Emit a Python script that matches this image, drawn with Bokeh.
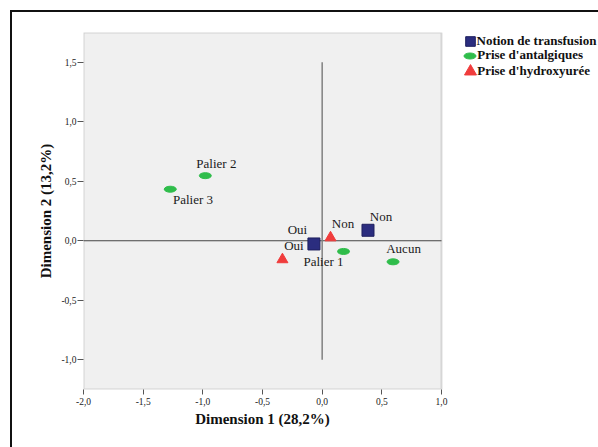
from bokeh.plotting import figure
from bokeh.models import (ColumnDataSource, FixedTicker, CustomJSTickFormatter,
                          Legend, LegendItem, Range1d, BoxAnnotation, Title)
from bokeh.core.properties import value
from bokeh.embed import file_html
from bokeh.resources import INLINE

# ---------------- data ----------------
transfusion_labels = ["Oui", "Non"]
transfusion_x = [-0.069, 0.384]
transfusion_y = [-0.027, 0.088]

antalg_labels = ["Palier 1", "Palier 2", "Palier 3", "Aucun"]
antalg_x = [0.179, -0.979, -1.273, 0.594]
antalg_y = [-0.090, 0.547, 0.433, -0.177]

hydroxy_labels = ["Oui", "Non"]
hydroxy_x = [-0.333, 0.070]
hydroxy_y = [-0.158, 0.026]

series_names = ["Notion de transfusion", "Prise d'antalgiques", "Prise d'hydroxyurée"]
x_ticks = [-2.0, -1.5, -1.0, -0.5, 0.0, 0.5, 1.0]
y_ticks = [-1.0, -0.5, 0.0, 0.5, 1.0, 1.5]
x_bounds = (-2.0, 1.0)
y_bounds = (-1.25, 1.75)
x_title = "Dimension 1 (28,2%)"
y_title = "Dimension 2 (13,2%)"

# ---------------- label offsets (style) ----------------
transfusion_dx = [-16.5, 13]
transfusion_dy = [-14.5, -13.8]
antalg_dx = [-20, 11, 22.7, 10.5]
antalg_dy = [10, -12, 10.6, -13]
hydroxy_dx = [11.5, 12.5]
hydroxy_dy = [-14, -14]

# ---------------- layout (pixels) ----------------
W, H = 598, 447
FL, FT = 83, 32            # left / top of the plotting box
BOXW, FH = 358, 357        # plotting box width / height
FB = FT + FH
SERIF = "Liberation Serif"
x_end = x_bounds[0] + (W - FL) * (x_bounds[1] - x_bounds[0]) / BOXW

p = figure(width=W, height=H, output_backend="svg", toolbar_location=None,
           x_range=Range1d(x_bounds[0], x_end), y_range=Range1d(*y_bounds),
           min_border_left=FL, min_border_top=FT,
           min_border_right=0, min_border_bottom=H - FB)
p.styles = {"box-shadow": "inset 10px 10px 0 0 #ffffff, inset 12px 12px 0 0 #111111",
            "background-color": "#ffffff"}
p.background_fill_alpha = 0
p.border_fill_alpha = 0
p.outline_line_color = None
p.grid.visible = False

# grey plotting area with its frame
p.add_layout(BoxAnnotation(left=x_bounds[0], right=x_bounds[1],
                           bottom=y_bounds[0], top=y_bounds[1],
                           fill_color="#f0f0f0", fill_alpha=1,
                           line_color="#8c8c8c", line_width=2, level="underlay"))

fmt = CustomJSTickFormatter(code="return tick.toFixed(1).replace('.', ',');")
for ax, ticks in ((p.xaxis[0], x_ticks), (p.yaxis[0], y_ticks)):
    ax.ticker = FixedTicker(ticks=ticks)
    ax.formatter = fmt
    ax.minor_tick_line_color = None
    ax.axis_line_color = None
    ax.major_tick_line_color = "#555555"
    ax.major_tick_in = 0
    ax.major_label_text_font = SERIF
    ax.major_label_text_font_size = "9.5px"
    ax.major_label_text_color = "#222222"
    ax.axis_label_text_font = SERIF
    ax.axis_label_text_font_style = "bold"
    ax.axis_label_text_font_size = "15px"
    ax.axis_label_text_color = "#111111"

p.xaxis.bounds = x_bounds
p.xaxis.major_tick_out = 5
p.xaxis.major_label_standoff = 3
p.yaxis.axis_label = y_title
p.yaxis.major_tick_out = 6
p.yaxis.major_label_standoff = 1
p.yaxis.axis_label_standoff = 4

# x title centred under the grey box
title_w = 134.6
p.add_layout(Title(text=x_title, align="left", offset=BOXW / 2 - title_w / 2,
                   text_font=SERIF, text_font_style="bold", text_font_size="15px",
                   text_color="#111111", standoff=2), "below")

# reference lines
p.segment(x0=[x_bounds[0]], y0=[0], x1=[x_bounds[1]], y1=[0],
          line_color="#444444", line_width=1)
p.segment(x0=[0], y0=[min(y_ticks)], x1=[0], y1=[max(y_ticks)],
          line_color="#808080", line_width=1.5)

# series
src_t = ColumnDataSource(dict(x=transfusion_x, y=transfusion_y, t=transfusion_labels,
                              dx=transfusion_dx, dy=transfusion_dy))
src_a = ColumnDataSource(dict(x=antalg_x, y=antalg_y, t=antalg_labels,
                              dx=antalg_dx, dy=antalg_dy))
src_h = ColumnDataSource(dict(x=hydroxy_x, y=hydroxy_y, t=hydroxy_labels,
                              dx=hydroxy_dx, dy=hydroxy_dy))

NAVY, GREEN, RED = "#2b2d7f", "#2fbd4b", "#f03c3c"
r_t = p.rect("x", "y", source=src_t, width=12, height=12,
             width_units="screen", height_units="screen",
             fill_color=NAVY, line_color="#1e1f5e", line_width=1)
r_a = p.ellipse("x", "y", source=src_a, width=12, height=6,
                width_units="screen", height_units="screen",
                fill_color=GREEN, line_color=GREEN)
r_h = p.scatter("x", "y", source=src_h, marker="triangle", size=11,
                fill_color=RED, line_color=RED)

for src in (src_t, src_a, src_h):
    p.text("x", "y", text="t", source=src, x_offset="dx", y_offset="dy",
           text_font=value(SERIF), text_font_size="13px", text_color="#1a1a1a",
           text_align="center", text_baseline="middle")

# legend (one Legend per swatch size)
leg_style = dict(padding=0, margin=0, border_line_color=None, background_fill_alpha=0,
                 label_text_font=SERIF, label_text_font_style="bold",
                 label_text_font_size="13px", label_text_color="#111111")

def place(left, top, height):
    return (left - FL, FB - (top + height))

legA = Legend(items=[LegendItem(label=series_names[0], renderers=[r_t])],
              location=place(463.5, 33.5, 15), glyph_width=12, glyph_height=12,
              label_height=12, label_standoff=1, spacing=0, **leg_style)
legB = Legend(items=[LegendItem(label=series_names[1], renderers=[r_a]),
                     LegendItem(label=series_names[2], renderers=[])],
              location=place(462.2, 48, 31), glyph_width=15, glyph_height=15,
              label_height=15, label_standoff=0, spacing=0, **leg_style)
legC = Legend(items=[LegendItem(label="", renderers=[r_h])],
              location=place(454.7, 56, 30), glyph_width=30, glyph_height=30,
              label_height=30, label_standoff=0, spacing=0, **leg_style)
for lg in (legA, legB, legC):
    p.add_layout(lg)

open("out.html", "w").write(file_html(p, INLINE))
